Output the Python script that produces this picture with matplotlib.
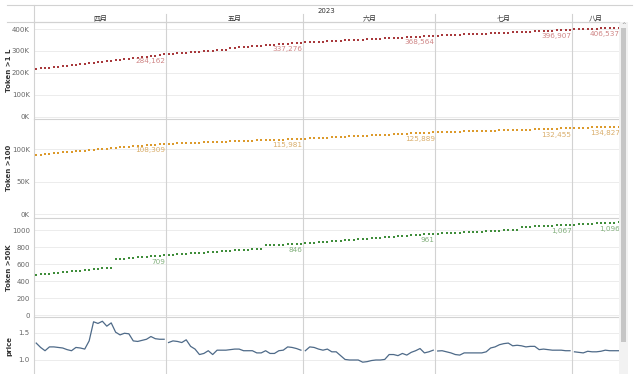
import numpy as np
import pandas as pd
import matplotlib
matplotlib.use("Agg")
import matplotlib.pyplot as plt
from matplotlib.lines import Line2D
from matplotlib.patches import Rectangle

W, H = 640, 374
cjk = ['Noto Sans CJK SC', 'DejaVu Sans']
plt.rcParams['font.family'] = ['DejaVu Sans']

# daily data, 2023-04-01 .. 2023-08-11
dates = pd.date_range('2023-04-01', '2023-08-11', freq='D')
month_names = ['四月', '五月', '六月', '七月', '八月']
month_starts = pd.to_datetime(['2023-04-01', '2023-05-01', '2023-06-01', '2023-07-01', '2023-08-01', '2023-08-12'])
label_days = [29, 60, 90, 121, 132]

# Token >1 L, in thousands
token_1l = [217.4, 219.8, 222.1, 224.0, 226.3, 228.5, 230.9, 233.2, 235.0, 237.4, 239.6, 241.9, 244.1, 246.2, 248.7,
            250.9, 253.0, 255.4, 257.6, 259.8, 262.1, 264.3, 266.4, 268.8, 271.0, 273.2, 275.5, 277.7, 280.0, 284.162,
            285.9, 287.4, 289.0, 290.5, 292.1, 293.6, 295.0, 296.5, 298.1, 299.6, 301.0, 302.5, 303.9, 305.3,
            313.8, 315.3, 316.7, 318.2, 319.7, 321.2, 322.6, 324.1, 325.6, 327.0, 328.5, 330.0, 331.5, 332.9, 334.4, 335.9, 337.276,
            338.4, 339.5, 340.6, 341.6, 342.7, 343.7, 344.8, 345.8, 346.9, 347.9, 348.9, 349.9, 350.9, 351.9, 352.9,
            353.9, 354.9, 355.9, 356.9, 357.9, 358.9, 359.9, 360.9, 361.9, 362.9, 363.9, 364.9, 365.9, 367.0, 368.564,
            369.5, 370.4, 371.3, 372.2, 373.1, 374.0, 374.9, 375.8, 376.7, 377.6, 378.5, 379.4, 380.3, 381.2, 382.1, 383.0,
            383.9, 384.8, 385.7, 386.6, 387.5, 388.4, 389.3, 390.2, 391.1, 392.0, 392.9, 393.8, 394.7, 395.6, 396.907,
            397.8, 398.6, 399.5, 400.3, 401.2, 402.0, 402.9, 403.8, 404.7, 405.6, 406.537]

# Token >100, in thousands
token_100 = [91.2, 91.9, 92.6, 93.2, 93.9, 94.5, 95.1, 95.7, 96.3, 96.9, 97.5, 98.1, 98.7, 99.3, 99.9,
             100.5, 101.1, 101.7, 102.2, 102.8, 103.4, 103.9, 104.5, 105.0, 105.5, 106.0, 106.5, 107.0, 107.6, 108.309,
             108.6, 108.8, 109.1, 109.3, 109.6, 109.8, 110.1, 110.3, 110.6, 110.8, 111.1, 111.3, 111.6, 111.8, 112.1, 112.3,
             112.6, 112.8, 113.1, 113.3, 113.6, 113.8, 114.0, 114.2, 114.4, 114.6, 114.8, 115.1, 115.4, 115.7, 115.981,
             116.3, 116.6, 117.0, 117.3, 117.6, 118.0, 118.3, 118.6, 119.0, 119.3, 119.6, 120.0, 120.3, 120.6, 121.0,
             121.3, 121.6, 122.0, 122.3, 122.6, 123.0, 123.3, 123.6, 124.0, 124.3, 124.6, 124.9, 125.2, 125.5, 125.889,
             126.1, 126.3, 126.5, 126.7, 126.9, 127.1, 127.3, 127.5, 127.7, 127.9, 128.1, 128.3, 128.5, 128.7, 128.9, 129.1,
             129.3, 129.5, 129.7, 129.9, 130.1, 130.3, 130.5, 130.7, 130.9, 131.1, 131.3, 131.6, 131.9, 132.2, 132.455,
             132.7, 132.9, 133.1, 133.3, 133.5, 133.7, 133.9, 134.1, 134.3, 134.6, 134.827]

# Token >50K
token_50k = [478, 483, 488, 493, 498, 503, 509, 514, 519, 524, 529, 534, 539, 544, 549, 554, 559, 564,
             662, 666, 670, 675, 679, 683, 688, 692, 696, 700, 705, 709,
             712, 716, 719, 723, 726, 730, 733, 737, 741, 744, 748, 751, 755, 758, 762, 766, 769, 773, 776, 780, 783, 787,
             825, 828, 830, 833, 835, 838, 840, 843, 846,
             849, 853, 857, 861, 865, 869, 872, 876, 880, 884, 888, 892, 896, 900, 903,
             907, 911, 915, 919, 923, 927, 931, 934, 938, 942, 946, 950, 954, 957, 961,
             963, 966, 968, 971, 973, 976, 978, 981, 983, 986, 988, 991, 993, 996, 998, 1001, 1003, 1006, 1008,
             1039, 1042, 1044, 1047, 1049, 1052, 1054, 1057, 1059, 1062, 1064, 1067,
             1070, 1073, 1075, 1078, 1080, 1083, 1086, 1088, 1091, 1093, 1096]

price = [1.31, 1.23, 1.17, 1.24, 1.24, 1.23, 1.22, 1.19, 1.17, 1.23, 1.22, 1.20, 1.35, 1.70, 1.67,
         1.71, 1.62, 1.68, 1.51, 1.46, 1.49, 1.48, 1.35, 1.34, 1.36, 1.38, 1.43, 1.39, 1.38, 1.38,
         1.32, 1.35, 1.34, 1.32, 1.37, 1.25, 1.20, 1.10, 1.12, 1.17, 1.10, 1.18, 1.18, 1.18, 1.19, 1.20,
         1.20, 1.17, 1.17, 1.17, 1.13, 1.13, 1.17, 1.12, 1.12, 1.17, 1.18, 1.24, 1.23, 1.21, 1.18,
         1.17, 1.24, 1.23, 1.20, 1.18, 1.20, 1.15, 1.15, 1.08, 1.01, 1.00, 1.00, 1.00, 0.96, 0.97,
         0.99, 1.00, 1.00, 1.01, 1.10, 1.10, 1.08, 1.12, 1.09, 1.14, 1.17, 1.21, 1.13, 1.15, 1.18,
         1.165, 1.17, 1.15, 1.13, 1.10, 1.09, 1.13, 1.13, 1.13, 1.13, 1.13, 1.15, 1.22, 1.24, 1.28, 1.30,
         1.31, 1.26, 1.27, 1.26, 1.24, 1.25, 1.25, 1.19, 1.20, 1.19, 1.18, 1.18, 1.18, 1.17, 1.17,
         1.15, 1.14, 1.13, 1.16, 1.15, 1.15, 1.16, 1.18, 1.17, 1.17, 1.17]

t0 = dates[0]
x = np.array((dates - t0).days) + 0.5
bounds = np.array((month_starts - t0).days)
month_of = np.searchsorted(bounds, x, side='right') - 1


def fx(px):
    return px / W


def fy(py):
    return 1 - py / H


L, R = 34, 619
panels = [(22, 118.5), (118.5, 218), (218, 316.5), (316.5, 394)]
grid_c = '#ececec'
sep_c = '#d2d2d2'

fig = plt.figure(figsize=(W / 100, H / 100), dpi=100)
axes = []
for top, bot in panels:
    ax = fig.add_axes([fx(L), fy(bot), fx(R - L), (bot - top) / H])
    ax.set_xlim(0, bounds[-1] - 0.4)
    for s in ['right', 'bottom']:
        ax.spines[s].set_visible(False)
    for s in ['left', 'top']:
        ax.spines[s].set_color(sep_c)
        ax.spines[s].set_linewidth(0.8)
    ax.set_xticks([])
    ax.tick_params(axis='y', length=0, pad=3, labelsize=5, labelcolor='#666666')
    ax.grid(axis='y', color=grid_c, lw=0.7)
    ax.set_axisbelow(True)
    for b in bounds[1:-1]:
        ax.axvline(b, color=sep_c, lw=0.8, zorder=1)
    axes.append(ax)

series = [
    (axes[0], token_1l, 'Token >1 L', '#a8393c', '#cf8585', (-9, 432), [0, 100, 200, 300, 400], 1000),
    (axes[1], token_100, 'Token >100', '#dc9a2c', '#d9ad6a', (-5.4, 147.2), [0, 50, 100], 1000),
    (axes[2], token_50k, 'Token >50K', '#3f8d3a', '#82b07c', (-12, 1147), [0, 200, 400, 600, 800, 1000], 1),
]
for ax, vals, name, c, lc, lim, ticks, mult in series:
    ax.plot(x, vals, ls='none', marker='s', ms=1.7, mew=0, color=c, zorder=3)
    ax.set_ylim(*lim)
    ax.set_yticks(ticks)
    if mult == 1000:
        ax.set_yticklabels([f'{t}K' for t in ticks])
    for d in label_days:
        ax.annotate(f'{vals[d] * mult:,.0f}', (x[d], vals[d]), xytext=(1, -2.5), textcoords='offset points',
                    ha='right', va='top', fontsize=5.2, color=lc, zorder=4)
    ax.set_ylabel(name, fontsize=5, fontweight='bold', color='#333333')
    ax.yaxis.set_label_coords(-22 / (R - L), 0.5)

ax4 = axes[3]
price_arr = np.array(price)
for m in range(5):
    sel = month_of == m
    ax4.plot(x[sel], price_arr[sel], color='#4e6a88', lw=0.9, zorder=3)
ax4.set_ylim(0.377, 1.797)
ax4.set_yticks([1.0, 1.5])
ax4.set_yticklabels(['1.0', '1.5'])
ax4.set_ylabel('price', fontsize=5, fontweight='bold', color='#333333')
ax4.yaxis.set_label_coords(-22 / (R - L), 1 - (346 - 316.5) / (394 - 316.5))

# header: year and months
fig.add_artist(Line2D([fx(7), fx(632)], [fy(5), fy(5)], color=sep_c, lw=0.8))
fig.add_artist(Line2D([fx(7), fx(R)], [fy(22), fy(22)], color=sep_c, lw=0.8))
fig.add_artist(Line2D([fx(L), fx(L)], [fy(5), fy(22)], color=sep_c, lw=0.8))
fig.text(fx((L + R) / 2), fy(11), '2023', fontsize=5, color='#333333', ha='center', va='center')
px_per_day = (R - L) / (bounds[-1] - 0.4)
for i, name in enumerate(month_names):
    a = L + bounds[i] * px_per_day
    b = min(L + bounds[i + 1] * px_per_day, R)
    fig.text(fx((a + b) / 2), fy(18.5), name, fontsize=5, color='#333333', ha='center', va='center', family=cjk)
    if i > 0:
        fig.add_artist(Line2D([fx(a), fx(a)], [fy(14), fy(22)], color=sep_c, lw=0.8))

# scrollbar
fig.add_artist(Rectangle((fx(619), 0), fx(9), fy(22), color='#f2f2f2', lw=0))
fig.add_artist(Rectangle((fx(621), fy(342)), fx(5), (342 - 28) / H, color='#c6c6c6', lw=0))
fig.text(fx(623.5), fy(25), '^', fontsize=4, color='#777777', ha='center', va='center')

fig.savefig('out.png', dpi=100)
